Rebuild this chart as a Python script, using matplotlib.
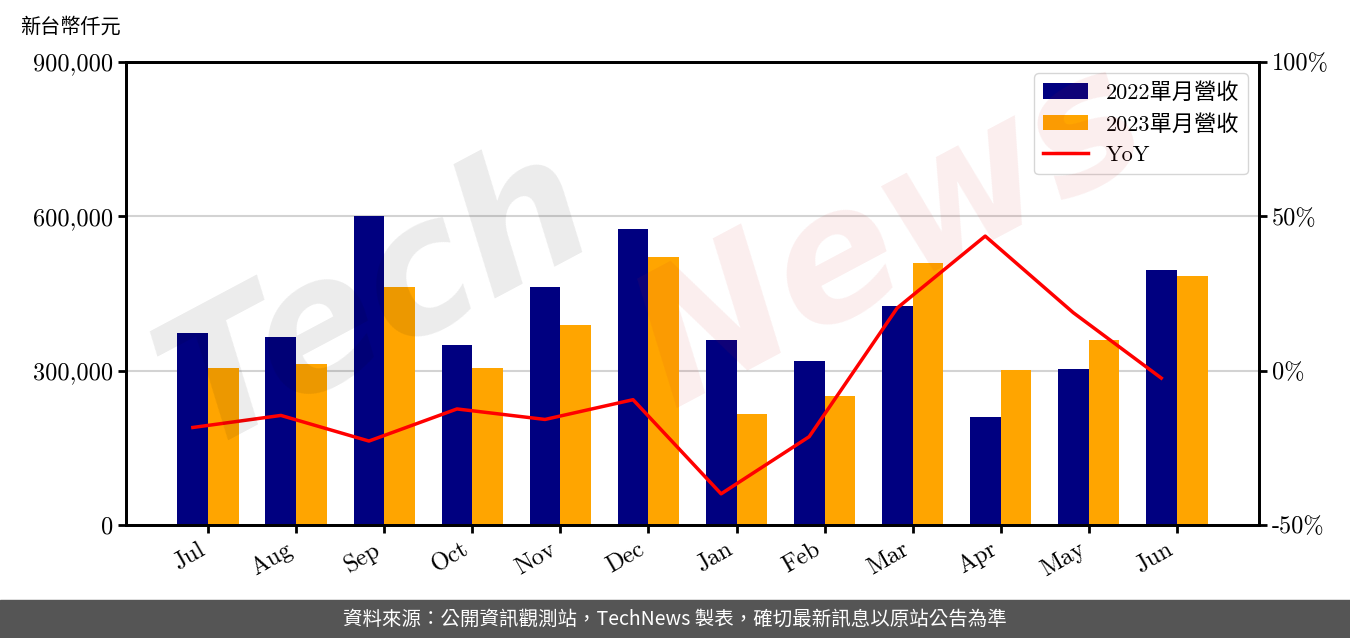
import matplotlib.pyplot as plt
import numpy as np
from matplotlib.ticker import FuncFormatter

plt.rcParams['font.family'] = ['cmr10', 'Noto Sans CJK TC', 'DejaVu Sans']
plt.rcParams['axes.unicode_minus'] = False

# data
months = ['Jul', 'Aug', 'Sep', 'Oct', 'Nov', 'Dec', 'Jan', 'Feb', 'Mar', 'Apr', 'May', 'Jun']
rev_2022 = [373000, 365000, 601000, 350000, 463000, 575000, 360000, 319000, 426000, 210000, 303000, 496000]
rev_2023 = [305000, 313000, 463000, 305000, 389000, 521000, 216000, 251000, 509000, 301000, 360000, 484000]
yoy = [-18.4, -14.5, -22.8, -12.4, -15.8, -9.4, -39.9, -21.4, 20.3, 43.6, 18.8, -2.4]

navy = '#000080'
orange = '#ffa500'

fig = plt.figure(figsize=(13.5, 6.38), dpi=100)
ax = fig.add_axes([0.0933, 0.1771, 0.8393, 0.7257])
ax2 = ax.twinx()

x = np.arange(len(months))
w = 0.35
ax.bar(x - w / 2, rev_2022, w, color=navy, label='2022單月營收', zorder=2)
ax.bar(x + w / 2, rev_2023, w, color=orange, label='2023單月營收', zorder=2)
ln, = ax2.plot(x - w / 2, yoy, color='red', linewidth=2.5, label='YoY', zorder=3)

ax.set_ylim(0, 900000)
ax.set_yticks([0, 300000, 600000, 900000])
ax.yaxis.set_major_formatter(FuncFormatter(lambda v, p: f'{int(v):,}'))
ax.grid(axis='y', color='#d3d3d3', linewidth=1.5, zorder=0)
ax.set_xticks(x)
ax.set_xticklabels(months, rotation=30, ha='right')

ax2.set_ylim(-50, 100)
ax2.set_yticks([-50, 0, 50, 100])
ax2.yaxis.set_major_formatter(FuncFormatter(lambda v, p: f'{int(v)}%'))

for a in (ax, ax2):
    for s in a.spines.values():
        s.set_linewidth(2)
    a.tick_params(width=2, length=6, labelsize=17.5)

fig.text(20 / 1350, 1 - 27 / 638, '新台幣仟元', fontsize=14.5,
         family=['Noto Sans CJK TC'], ha='left', va='center')

h1, l1 = ax.get_legend_handles_labels()
leg = ax2.legend(h1 + [ln], l1 + ['YoY'], loc='upper right',
                 prop={'family': ['cmr10', 'Noto Sans CJK TC'], 'size': 16},
                 framealpha=0.8, edgecolor='#cccccc')
ax2.set_zorder(ax.get_zorder() + 1)
ax.patch.set_visible(True)
ax2.patch.set_visible(False)

# watermark
fig.text(0.28, 0.53, 'Tech', fontsize=130, fontstyle='italic', fontweight='bold',
         family='DejaVu Sans', color='#000000', alpha=0.08, rotation=28,
         ha='center', va='center', zorder=10)
fig.text(0.66, 0.63, 'News', fontsize=130, fontstyle='italic', fontweight='bold',
         family='DejaVu Sans', color='#d02020', alpha=0.08, rotation=28,
         ha='center', va='center', zorder=10)

# footer
fig.patches.append(plt.Rectangle((0, 0), 1, 38 / 638, transform=fig.transFigure,
                                 color='#555555', zorder=0))
fig.text(0.5, 19 / 638, '資料來源：公開資訊觀測站，TechNews 製表，確切最新訊息以原站公告為準',
         color='white', fontsize=14, family=['Noto Sans CJK TC'], ha='center', va='center')

fig.savefig('out.png', dpi=100)
